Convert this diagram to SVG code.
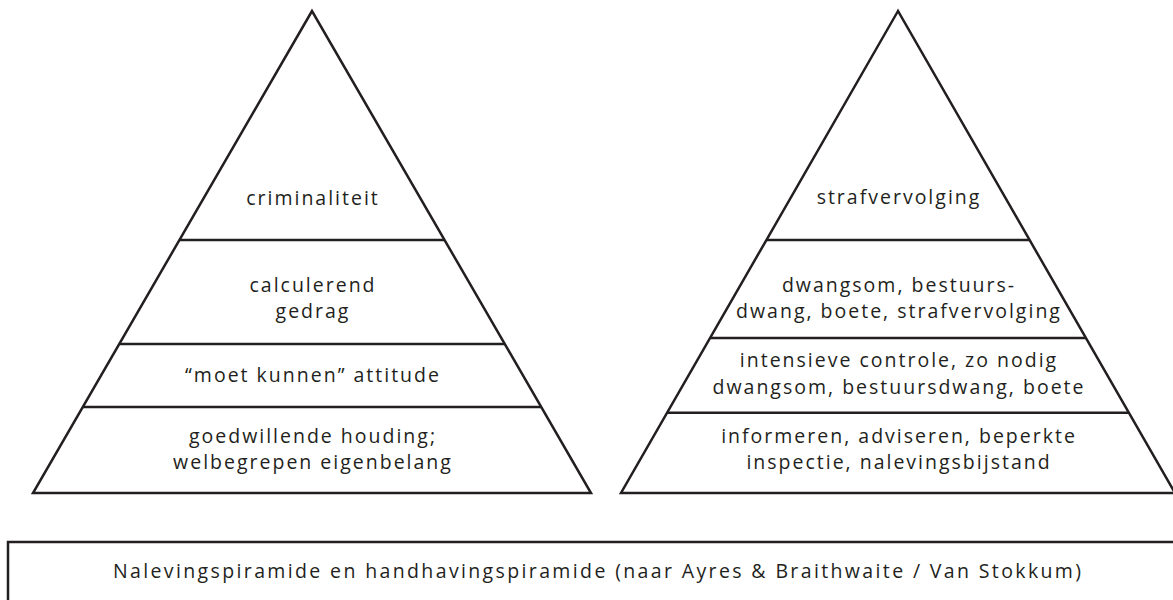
<svg xmlns="http://www.w3.org/2000/svg" width="1173" height="600" viewBox="0 0 1173 600">
<style>
.ln{fill:none;stroke:#231f20;stroke-width:2.5;stroke-linejoin:miter}
.t{font-family:"Open Sans","Noto Sans","DejaVu Sans",sans-serif;font-size:19.5px;fill:#231f20;text-anchor:middle;letter-spacing:2px}
.c{font-family:"Open Sans","Noto Sans","DejaVu Sans",sans-serif;font-size:19.5px;fill:#231f20}
</style>
<rect width="1173" height="600" fill="#fff"/>
<g id="naleving">
<polygon class="ln" points="312,11 33,493 591,493"/>
<line class="ln" x1="179.5" y1="240" x2="444.5" y2="240"/>
<line class="ln" x1="119.5" y1="344" x2="504.5" y2="344"/>
<line class="ln" x1="83" y1="407" x2="541" y2="407"/>
<text class="t" x="313" y="205">criminaliteit</text>
<text class="t" x="313" y="292">calculerend</text>
<text class="t" x="313" y="318">gedrag</text>
<text class="t" x="313" y="382">“moet kunnen” attitude</text>
<text class="t" x="313" y="443">goedwillende houding;</text>
<text class="t" x="313" y="469">welbegrepen eigenbelang</text>
</g>
<g id="handhaving">
<polygon class="ln" points="898,11 621,493 1175,493"/>
<line class="ln" x1="766.5" y1="240" x2="1029.5" y2="240"/>
<line class="ln" x1="710.5" y1="338" x2="1085.5" y2="338"/>
<line class="ln" x1="667.5" y1="412.7" x2="1128.5" y2="412.7"/>
<text class="t" x="899" y="204">strafvervolging</text>
<text class="t" x="899" y="292">dwangsom, bestuurs-</text>
<text class="t" x="899" y="318">dwang, boete, strafvervolging</text>
<text class="t" x="899" y="367">intensieve controle, zo nodig</text>
<text class="t" x="899" y="394">dwangsom, bestuursdwang, boete</text>
<text class="t" x="899" y="443">informeren, adviseren, beperkte</text>
<text class="t" x="899" y="469">inspectie, nalevingsbijstand</text>
</g>
<g id="caption">
<rect class="ln" x="8" y="542" width="1200" height="100"/>
<text class="c" x="113" y="578" textLength="968" lengthAdjust="spacing">Nalevingspiramide en handhavingspiramide (naar Ayres &amp; Braithwaite / Van Stokkum)</text>
</g>
</svg>
